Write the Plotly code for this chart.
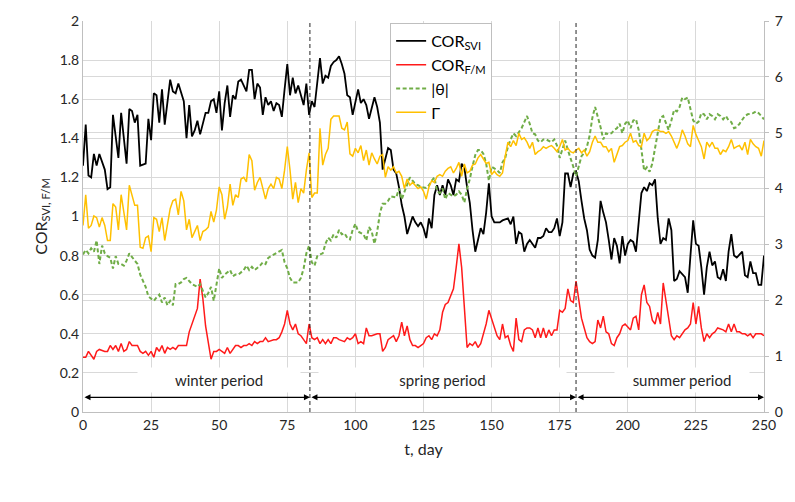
import plotly.graph_objects as go

# ---------------- data ----------------
cor_svi = [(0,1.26),(1,1.47),(2,1.21),(3,1.20),(4,1.32),(5,1.26),(6,1.32),(8,1.24),(9,1.14),(10,1.15),
(11,1.52),(13,1.30),(14,1.53),(16,1.27),(17,1.55),(18,1.54),(19,1.48),(20,1.52),(21,1.26),(23,1.27),
(24,1.50),(25,1.39),(26,1.63),(27,1.62),(28,1.48),(29,1.65),(30,1.47),(32,1.70),(33,1.64),(34,1.63),
(35,1.68),(37,1.59),(38,1.40),(39,1.57),(40,1.41),(41,1.44),(42,1.49),(43,1.42),(45,1.53),(46,1.53),
(47,1.59),(48,1.60),(49,1.53),(50,1.64),(51,1.44),(52,1.58),(53,1.67),(54,1.51),(55,1.62),(56,1.60),
(57,1.69),(58,1.70),(60,1.64),(61,1.75),(62,1.75),(63,1.60),(64,1.68),(65,1.66),(66,1.52),(67,1.61),
(68,1.57),(69,1.59),(70,1.54),(71,1.58),(72,1.57),(73,1.51),(74,1.65),(75,1.78),(76,1.62),(77,1.71),
(78,1.63),(79,1.67),(80,1.62),(81,1.57),(82,1.68),(83,1.52),(84,1.59),(85,1.56),(87,1.81),(88,1.68),
(89,1.72),(90,1.71),(91,1.77),(92,1.79),(93,1.80),(94,1.82),(95,1.78),(96,1.73),(97,1.62),(98,1.61),
(99,1.52),(101,1.65),(102,1.58),(103,1.60),(104,1.57),(105,1.50),(107,1.61),(108,1.56),(109,1.48),(110,1.24),
(112,1.35),(113,1.34),(114,1.24),(115,1.22),(116,1.15),(117,1.06),(118,1.00),(119,0.91),(121,1.00),(122,0.97),
(123,0.95),(124,0.97),(125,0.94),(126,0.89),(127,0.99),(128,0.94),(129,1.11),(130,1.16),(131,1.11),(132,1.16),
(133,1.11),(134,1.19),(135,1.16),(136,1.11),(137,1.19),(138,1.18),(139,1.27),(140,1.25),(141,1.15),(142,1.07),
(143,0.93),(144,0.82),(146,0.94),(147,0.91),(148,1.02),(149,1.17),(150,1.00),(151,0.97),(153,0.97),(154,0.98),
(156,0.99),(157,0.96),(158,1.00),(159,0.86),(160,0.92),(161,0.91),(162,0.82),(163,0.86),(164,0.88),(165,0.86),
(166,0.84),(167,0.89),(168,0.89),(169,0.90),(170,0.94),(171,0.92),(172,0.92),(173,0.94),(174,0.99),(175,0.90),
(176,0.97),(177,1.22),(178,1.22),(179,1.15),(180,1.22),(181,1.23),(182,1.18),(183,1.08),(184,0.99),(185,0.93),
(186,0.83),(187,0.80),(188,0.79),(189,0.88),(190,1.08),(191,1.02),(192,0.97),(193,0.88),(194,0.78),(195,0.89),
(196,0.85),(197,0.76),(198,0.90),(199,0.80),(200,0.86),(201,0.88),(202,0.87),(203,0.82),(204,0.96),(205,1.12),
(206,1.15),(207,1.13),(208,1.17),(209,1.16),(210,1.19),(211,0.99),(212,0.86),(213,0.89),(214,0.88),(215,0.99),
(216,0.93),(217,0.67),(218,0.68),(219,0.72),(221,0.69),(222,0.61),(223,0.80),(224,0.98),(225,0.86),(226,0.85),
(227,0.74),(228,0.60),(229,0.74),(230,0.82),(231,0.75),(232,0.77),(233,0.69),(234,0.68),(235,0.73),(236,0.67),
(237,0.82),(238,0.91),(239,0.80),(240,0.79),(242,0.82),(243,0.70),(244,0.69),(245,0.77),(246,0.71),(247,0.71),
(248,0.65),(249,0.65),(250,0.80)]

cor_fm = [(0,0.28),(1,0.28),(2,0.31),(4,0.27),(5,0.31),(6,0.32),(8,0.31),(9,0.31),(10,0.34),(11,0.32),
(12,0.34),(13,0.31),(14,0.35),(15,0.31),(16,0.32),(17,0.36),(18,0.34),(20,0.34),(21,0.31),(22,0.30),
(23,0.31),(24,0.29),(25,0.31),(26,0.28),(27,0.33),(28,0.31),(29,0.34),(30,0.30),(31,0.33),(32,0.32),
(33,0.33),(34,0.32),(35,0.34),(37,0.34),(38,0.34),(39,0.41),(40,0.45),(41,0.48),(42,0.53),(43,0.68),
(44,0.58),(45,0.44),(46,0.36),(47,0.27),(48,0.31),(49,0.31),(50,0.32),(51,0.31),(52,0.30),(53,0.33),
(54,0.30),(56,0.34),(57,0.34),(58,0.33),(59,0.34),(60,0.34),(61,0.35),(62,0.34),(63,0.36),(64,0.35),
(65,0.36),(66,0.36),(67,0.38),(68,0.36),(70,0.37),(71,0.37),(72,0.38),(73,0.41),(74,0.45),(75,0.52),
(76,0.45),(77,0.42),(78,0.45),(79,0.40),(80,0.39),(81,0.37),(82,0.35),(83,0.45),(84,0.38),(85,0.37),
(86,0.38),(87,0.35),(88,0.37),(89,0.35),(90,0.37),(91,0.35),(92,0.38),(93,0.38),(94,0.37),(96,0.36),
(97,0.38),(98,0.37),(99,0.38),(100,0.40),(101,0.35),(102,0.36),(103,0.35),(104,0.43),(105,0.39),(106,0.39),
(108,0.40),(109,0.40),(110,0.31),(111,0.33),(112,0.37),(114,0.39),(115,0.36),(116,0.39),(117,0.46),(118,0.39),
(119,0.44),(120,0.37),(121,0.34),(122,0.34),(123,0.33),(124,0.34),(125,0.35),(126,0.38),(127,0.39),(128,0.37),
(129,0.40),(130,0.39),(131,0.42),(132,0.51),(133,0.55),(134,0.56),(135,0.60),(136,0.63),(137,0.74),(138,0.86),
(139,0.74),(140,0.55),(141,0.33),(142,0.35),(143,0.34),(144,0.36),(145,0.33),(146,0.35),(147,0.40),(148,0.45),
(149,0.52),(150,0.48),(151,0.44),(152,0.39),(153,0.37),(154,0.45),(155,0.38),(156,0.39),(157,0.34),(158,0.31),
(159,0.48),(160,0.37),(161,0.36),(162,0.42),(163,0.43),(164,0.43),(165,0.42),(166,0.38),(167,0.43),(168,0.38),
(169,0.43),(170,0.38),(171,0.42),(172,0.39),(173,0.42),(174,0.42),(175,0.52),(176,0.51),(177,0.53),(178,0.63),
(179,0.57),(180,0.56),(181,0.67),(182,0.56),(183,0.48),(184,0.43),(185,0.38),(186,0.36),(187,0.35),(188,0.36),
(189,0.47),(190,0.43),(191,0.49),(192,0.41),(193,0.40),(194,0.35),(195,0.34),(196,0.38),(197,0.40),(198,0.44),
(199,0.45),(201,0.42),(202,0.48),(203,0.49),(204,0.42),(205,0.60),(206,0.65),(207,0.56),(208,0.54),(209,0.47),
(210,0.45),(211,0.51),(212,0.45),(213,0.66),(214,0.57),(215,0.48),(216,0.39),(217,0.37),(218,0.39),(219,0.38),
(221,0.42),(222,0.43),(223,0.45),(224,0.56),(225,0.45),(226,0.54),(227,0.43),(228,0.36),(229,0.40),(230,0.38),
(231,0.40),(232,0.41),(233,0.43),(235,0.42),(236,0.41),(237,0.45),(238,0.41),(239,0.45),(240,0.41),(241,0.41),
(242,0.40),(243,0.40),(244,0.39),(245,0.40),(246,0.38),(247,0.40),(249,0.40),(250,0.39)]

theta_abs = [(0,2.82),(1,2.90),(2,2.84),(3,2.93),(4,2.87),(5,3.07),(6,2.65),(7,2.98),(8,2.84),(9,2.79),
(10,2.76),(11,2.57),(12,2.79),(13,2.65),(14,2.65),(15,2.62),(16,2.71),(17,2.84),(19,2.71),(20,2.65),
(21,2.46),(22,2.35),(23,2.24),(24,2.07),(26,1.99),(27,2.05),(28,2.10),(29,1.96),(30,2.05),(31,1.91),
(32,1.99),(33,1.91),(34,2.29),(35,2.29),(36,2.32),(37,2.38),(38,2.40),(40,2.29),(41,2.27),(42,2.24),
(43,2.29),(44,2.18),(45,2.05),(46,2.13),(47,2.24),(48,1.99),(49,2.29),(50,2.57),(51,2.40),(52,2.46),
(54,2.54),(55,2.43),(56,2.46),(57,2.46),(59,2.54),(60,2.62),(61,2.54),(62,2.60),(63,2.54),(65,2.62),
(66,2.68),(67,2.65),(68,2.76),(70,2.82),(71,2.84),(72,2.87),(73,2.90),(74,2.68),(75,2.57),(76,2.40),
(77,2.32),(79,2.32),(80,2.40),(81,2.57),(82,2.84),(83,2.98),(84,2.68),(85,2.62),(86,2.79),(87,2.82),
(88,2.84),(89,3.01),(90,3.12),(91,3.07),(92,3.18),(93,3.12),(94,3.26),(95,3.18),(96,3.20),(97,3.12),
(98,3.09),(99,3.26),(100,3.37),(101,3.23),(102,3.20),(103,3.18),(104,3.07),(105,3.31),(106,3.23),(107,3.01),
(108,3.23),(109,3.56),(110,3.73),(111,3.73),(112,3.78),(113,3.86),(115,3.84),(116,4.00),(117,3.81),(118,3.95),
(119,4.06),(120,4.20),(121,4.14),(122,4.08),(123,4.06),(124,4.03),(126,4.01),(127,4.06),(128,4.14),(129,4.20),
(130,3.95),(131,3.92),(132,4.00),(133,3.81),(134,3.92),(135,3.89),(136,3.86),(137,3.89),(138,3.95),(139,3.89),
(140,3.75),(141,4.00),(142,4.17),(143,4.40),(144,4.60),(145,4.69),(146,4.69),(147,4.62),(148,4.45),(149,4.14),
(150,4.39),(151,4.36),(152,4.33),(153,4.28),(154,4.47),(155,4.55),(156,4.75),(157,4.88),(158,4.99),(159,4.94),
(160,5.02),(161,5.08),(162,5.19),(163,5.30),(164,5.16),(165,4.99),(166,4.97),(167,4.86),(168,4.83),(169,4.88),
(170,4.88),(171,4.86),(172,4.83),(173,4.88),(174,4.77),(175,4.55),(176,4.69),(177,4.86),(178,4.69),(179,4.55),
(180,4.39),(181,4.22),(182,4.39),(183,4.58),(184,4.64),(185,4.75),(186,4.95),(187,5.27),(188,5.46),(189,5.30),
(190,5.10),(191,4.88),(192,4.99),(193,4.97),(194,4.99),(195,5.05),(196,5.08),(197,5.16),(198,4.99),(199,5.16),
(200,5.22),(201,5.08),(202,5.22),(203,5.24),(204,5.05),(205,4.70),(206,4.32),(207,4.38),(208,4.30),(209,4.45),
(210,4.70),(211,5.02),(212,5.27),(213,5.30),(214,5.16),(215,5.05),(216,5.22),(217,5.41),(218,5.38),(219,5.46),
(220,5.63),(221,5.60),(222,5.63),(223,5.44),(224,5.22),(225,5.16),(226,5.20),(227,5.35),(228,5.33),(229,5.24),
(230,5.33),(231,5.30),(232,5.24),(233,5.33),(234,5.30),(235,5.24),(236,5.30),(237,5.22),(238,5.19),(239,5.08),
(240,5.10),(241,5.16),(242,5.24),(243,5.30),(244,5.33),(246,5.35),(247,5.38),(248,5.35),(249,5.30),(250,5.24)]

gamma = [(0,3.34),(1,3.89),(2,3.29),(3,3.34),(4,3.51),(5,3.48),(6,3.31),(7,3.48),(8,3.34),(9,3.07),
(10,3.07),(11,3.73),(12,3.67),(13,3.26),(14,3.89),(15,3.56),(16,3.26),(17,4.06),(18,3.89),(19,3.70),
(20,3.70),(21,2.95),(22,2.93),(23,3.12),(24,3.15),(25,2.87),(26,3.48),(27,3.45),(28,3.23),(29,3.48),
(30,3.07),(32,3.64),(33,3.78),(34,3.81),(35,3.53),(36,3.95),(37,3.78),(38,3.26),(39,3.45),(40,3.12),
(41,3.23),(42,3.34),(43,3.07),(44,3.23),(45,3.26),(46,3.31),(47,3.59),(48,3.40),(49,3.62),(50,4.03),
(51,3.89),(52,3.45),(53,3.67),(54,4.08),(55,3.70),(56,3.89),(57,3.84),(58,4.17),(59,4.20),(60,4.12),
(61,4.61),(62,4.50),(63,3.97),(64,4.11),(65,4.20),(66,4.00),(67,3.81),(68,4.00),(69,4.08),(70,4.00),
(71,4.20),(72,4.17),(73,4.00),(74,4.33),(75,4.75),(76,4.33),(77,3.81),(78,4.11),(79,3.75),(80,4.00),
(81,3.92),(82,4.33),(83,4.64),(84,3.84),(85,3.92),(86,3.92),(87,5.08),(88,4.42),(89,4.61),(90,4.72),
(91,5.24),(92,5.30),(93,5.30),(94,5.30),(95,5.08),(96,5.05),(97,5.19),(98,4.62),(99,4.58),(100,4.72),
(101,4.64),(102,4.77),(103,4.50),(104,4.69),(105,4.42),(106,4.64),(107,4.53),(108,4.44),(109,4.58),(110,4.61),
(111,4.20),(112,4.39),(113,4.33),(114,4.39),(115,4.28),(116,4.31),(117,4.22),(118,4.00),(119,4.17),(120,4.06),
(121,4.11),(122,4.06),(123,4.00),(124,4.03),(125,3.95),(126,3.81),(127,4.03),(128,4.14),(129,4.11),(130,4.22),
(131,4.25),(132,4.22),(133,4.31),(134,4.36),(135,4.39),(136,4.28),(137,4.36),(138,4.47),(139,4.22),(140,4.44),
(141,4.28),(142,4.31),(143,4.42),(144,4.44),(145,4.55),(146,4.61),(147,4.52),(148,4.45),(149,4.47),(150,4.25),
(151,4.31),(152,4.25),(153,4.22),(154,4.28),(155,4.58),(156,4.83),(157,4.75),(158,4.86),(159,4.77),(160,4.99),
(161,4.88),(162,4.91),(163,4.83),(164,4.72),(165,4.83),(166,4.61),(167,4.66),(168,4.69),(169,4.75),(170,4.72),
(171,4.75),(172,4.77),(173,4.72),(174,4.66),(175,4.75),(176,4.88),(177,4.69),(178,4.72),(179,4.66),(180,4.64),
(181,4.69),(182,4.72),(183,4.64),(184,4.69),(185,4.58),(186,4.66),(187,4.83),(188,4.94),(189,4.83),(190,4.83),
(191,4.75),(192,4.75),(193,4.66),(194,4.72),(195,4.47),(196,4.61),(197,4.75),(198,4.77),(199,4.83),(200,4.86),
(201,4.99),(202,4.83),(203,4.86),(204,4.77),(205,4.75),(206,4.99),(207,4.86),(208,4.91),(209,5.02),(210,5.05),
(211,5.05),(212,5.02),(213,5.02),(214,4.99),(215,5.02),(216,4.94),(217,4.83),(218,4.72),(219,4.85),(220,5.05),
(221,4.94),(222,4.80),(223,4.75),(224,5.13),(225,4.97),(226,4.86),(227,4.75),(228,4.53),(229,4.83),(230,4.75),
(231,4.83),(232,4.72),(233,4.72),(234,4.61),(235,4.69),(236,4.66),(237,4.75),(238,4.88),(239,4.72),(240,4.75),
(241,4.77),(242,4.69),(243,4.83),(244,4.61),(245,4.88),(246,4.80),(247,4.75),(248,4.72),(249,4.58),(250,4.86)]

period_bounds = [0, 83.3, 181, 250]
period_labels = ["winter period", "spring period", "summer period"]
period_label_day = [50, 132, 220]
period_label_width = [160, 245, 132]

FONT = "Lato, 'Open Sans', sans-serif"
GRID = "#d9d9d9"
TXT = "#262626"


def split(pairs):
    return [p[0] for p in pairs], [p[1] for p in pairs]


fig = go.Figure()
x, y = split(cor_svi)
fig.add_trace(go.Scatter(x=x, y=y, mode="lines", name="COR<sub>SVI</sub>",
                         line=dict(color="#000000", width=1.8)))
x, y = split(cor_fm)
fig.add_trace(go.Scatter(x=x, y=y, mode="lines", name="COR<sub>F/M</sub>",
                         line=dict(color="#ff1a1a", width=1.5)))
x, y = split(theta_abs)
fig.add_trace(go.Scatter(x=x, y=y, mode="lines", name="|θ|", yaxis="y2",
                         line=dict(color="#70ad47", width=2, dash="4px,2.5px")))
x, y = split(gamma)
fig.add_trace(go.Scatter(x=x, y=y, mode="lines", name="Γ", yaxis="y2",
                         line=dict(color="#ffc000", width=1.5)))

shapes = []
for b in period_bounds[1:-1]:
    shapes.append(dict(type="line", xref="x", yref="y", x0=b, x1=b, y0=0, y1=2,
                       line=dict(color="#262626", width=1, dash="4px,3px")))

annotations = []
for i, lab in enumerate(period_labels):
    annotations.append(dict(x=period_label_day[i], y=0.165, xref="x", yref="y", text=lab,
                            showarrow=False, bgcolor="white", width=period_label_width[i],
                            height=22, font=dict(size=15, color=TXT, family=FONT)))
    annotations.append(dict(x=period_bounds[i + 1], y=0.075, ax=period_bounds[i], ay=0.075,
                            xref="x", yref="y", axref="x", ayref="y", text="",
                            showarrow=True, arrowhead=2, arrowside="end+start",
                            arrowsize=1, arrowwidth=1.2, arrowcolor="#000000",
                            standoff=0, startstandoff=0))

fig.update_layout(
    width=795, height=502,
    margin=dict(l=83, r=25, t=20, b=90),
    paper_bgcolor="white", plot_bgcolor="white",
    font=dict(family=FONT, color=TXT, size=14),
    showlegend=True,
    legend=dict(x=0.451, y=0.995, xanchor="left", yanchor="top",
                bgcolor="white", bordercolor="#bfbfbf", borderwidth=1,
                font=dict(size=16, color="#000000", family=FONT),
                itemwidth=30, tracegroupgap=0),
    xaxis=dict(range=[0, 250], tick0=0, dtick=25, showgrid=True, gridcolor=GRID,
               zeroline=False, showline=True, linecolor="#bfbfbf",
               tickfont=dict(size=14, color=TXT),
               title=dict(text="t, day", font=dict(size=16, color=TXT), standoff=12)),
    yaxis=dict(range=[0, 2], tick0=0, dtick=0.2, showgrid=True, gridcolor=GRID,
               zeroline=False, showline=True, linecolor="#bfbfbf",
               tickfont=dict(size=14, color=TXT),
               title=dict(text="COR<sub>SVI, F/M</sub>", font=dict(size=16, color=TXT), standoff=8)),
    yaxis2=dict(range=[0, 7], tick0=0, dtick=1, overlaying="y", side="right",
                showgrid=True, gridcolor=GRID, zeroline=False,
                showline=True, linecolor="#bfbfbf", ticks="outside", ticklen=4,
                tickcolor="#bfbfbf", ticklabelstandoff=3,
                tickfont=dict(size=14, color=TXT)),
    shapes=shapes,
    annotations=annotations,
)

fig.write_html("out.html")
